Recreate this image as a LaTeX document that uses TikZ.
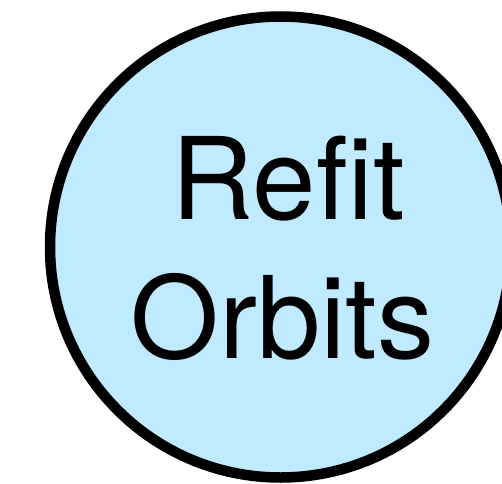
\documentclass[tikz,border=0pt]{standalone}
\usepackage{fontspec}
\setmainfont{TeX Gyre Heros}
\definecolor{orbitfill}{RGB}{192,234,255}
\begin{document}
\begin{tikzpicture}[x=1pt,y=1pt,
  orbitcircle/.style={circle,draw=black,fill=orbitfill,line width=10.5pt,minimum size=461pt,inner sep=0pt},
  bigtext/.style={font=\fontsize{114}{139}\selectfont,inner sep=0pt,anchor=base}]
\useasboundingbox (0,0) rectangle (502,483);
\node[orbitcircle] (c) at (280.5,236) {};
\node[bigtext] (l1) at (288,264) {Refit};
\node[bigtext] (l2) at (282.5,125) {Orbits};
\end{tikzpicture}
\end{document}
